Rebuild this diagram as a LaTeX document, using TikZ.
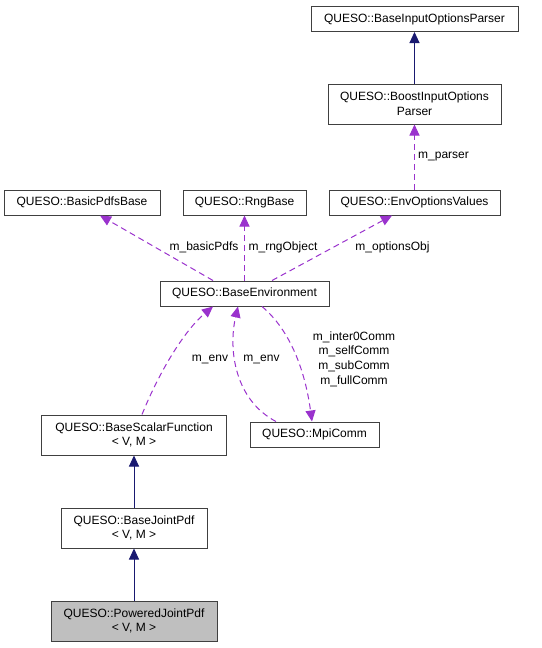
\documentclass[tikz,border=0pt]{standalone}
\usepackage{fontspec}
\setmainfont{Liberation Sans}
\usetikzlibrary{arrows.meta}
\definecolor{boxline}{HTML}{404040}
\definecolor{navyedge}{HTML}{191970}
\definecolor{purpedge}{HTML}{9A32CD}
\definecolor{grayfill}{HTML}{BFBFBF}
\tikzset{
  cls/.style={draw=boxline, line width=1pt, fill=white, inner sep=0pt, align=center,
    font=\fontsize{12}{14.7}\selectfont},
  inh/.style={draw=navyedge, line width=1pt, -{Triangle[length=11pt,width=10pt]}},
  use/.style={draw=purpedge, line width=1pt, dash pattern=on 6pt off 4pt,
    -{Triangle[length=11pt,width=10pt]}},
  lbl/.style={inner sep=0pt, align=center, font=\fontsize{12}{14.7}\selectfont}
}
\begin{document}
\begin{tikzpicture}[x=1pt,y=-1pt]
\useasboundingbox (0,0) rectangle (541,648);
\node[cls, minimum width=207pt, minimum height=25pt] (bip) at (414.5,19) {QUESO::BaseInputOptionsParser};
\node[cls, minimum width=173pt, minimum height=40pt] (boost) at (414.5,104) {QUESO::BoostInputOptions\\Parser};
\node[cls, minimum width=156pt, minimum height=25pt] (basic) at (82,202.5) {QUESO::BasicPdfsBase};
\node[cls, minimum width=123pt, minimum height=25pt] (rng) at (244.5,202.5) {QUESO::RngBase};
\node[cls, minimum width=171pt, minimum height=25pt] (eov) at (414.5,202.5) {QUESO::EnvOptionsValues};
\node[cls, minimum width=169pt, minimum height=25pt] (be) at (244.5,293.5) {QUESO::BaseEnvironment};
\node[cls, minimum width=185pt, minimum height=40pt] (bsf) at (134,435) {QUESO::BaseScalarFunction\\{}< V, M >};
\node[cls, minimum width=129pt, minimum height=25pt] (mpi) at (314.5,434.5) {QUESO::MpiComm};
\node[cls, minimum width=146pt, minimum height=40pt] (bjp) at (134,528) {QUESO::BaseJointPdf\\{}< V, M >};
\node[cls, fill=grayfill, minimum width=166pt, minimum height=40pt] (pjp) at (134,621) {QUESO::PoweredJointPdf\\{}< V, M >};

% inheritance
\draw[inh] (boost.north) -- (bip.south);
\draw[inh] (bjp.north) -- (bsf.south);
\draw[inh] (pjp.north) -- (bjp.south);

% usage
\draw[use] (eov.north) -- (boost.south);
\draw[use] (be.north -| 213,0) -- (basic.south -| 100,0);
\draw[use] (be.north) -- (rng.south);
\draw[use] (be.north -| 272,0) -- (eov.south -| 392,0);
\draw[use] (bsf.north -| 142,0) .. controls (160,370) and (185,330) .. (be.south -| 213,0);
\draw[use] (mpi.north -| 276,0) .. controls (235,400) and (228,350) .. (be.south -| 238,0);
\draw[use] (be.south -| 262,0) .. controls (290,330) and (305,370) .. (mpi.north -| 312,0);

% labels
\node[lbl] (lparser) at (443.5,157) {m\_parser};
\node[lbl] (lbasic) at (204,247) {m\_basicPdfs};
\node[lbl] (lrng) at (283,247) {m\_rngObject};
\node[lbl] (lopt) at (392.5,247) {m\_optionsObj};
\node[lbl] (lenv1) at (210,359) {m\_env};
\node[lbl] (lenv2) at (261.5,359) {m\_env};
\node[lbl] (lcomm) at (354,359) {m\_inter0Comm\\m\_selfComm\\m\_subComm\\m\_fullComm};
\end{tikzpicture}
\end{document}
